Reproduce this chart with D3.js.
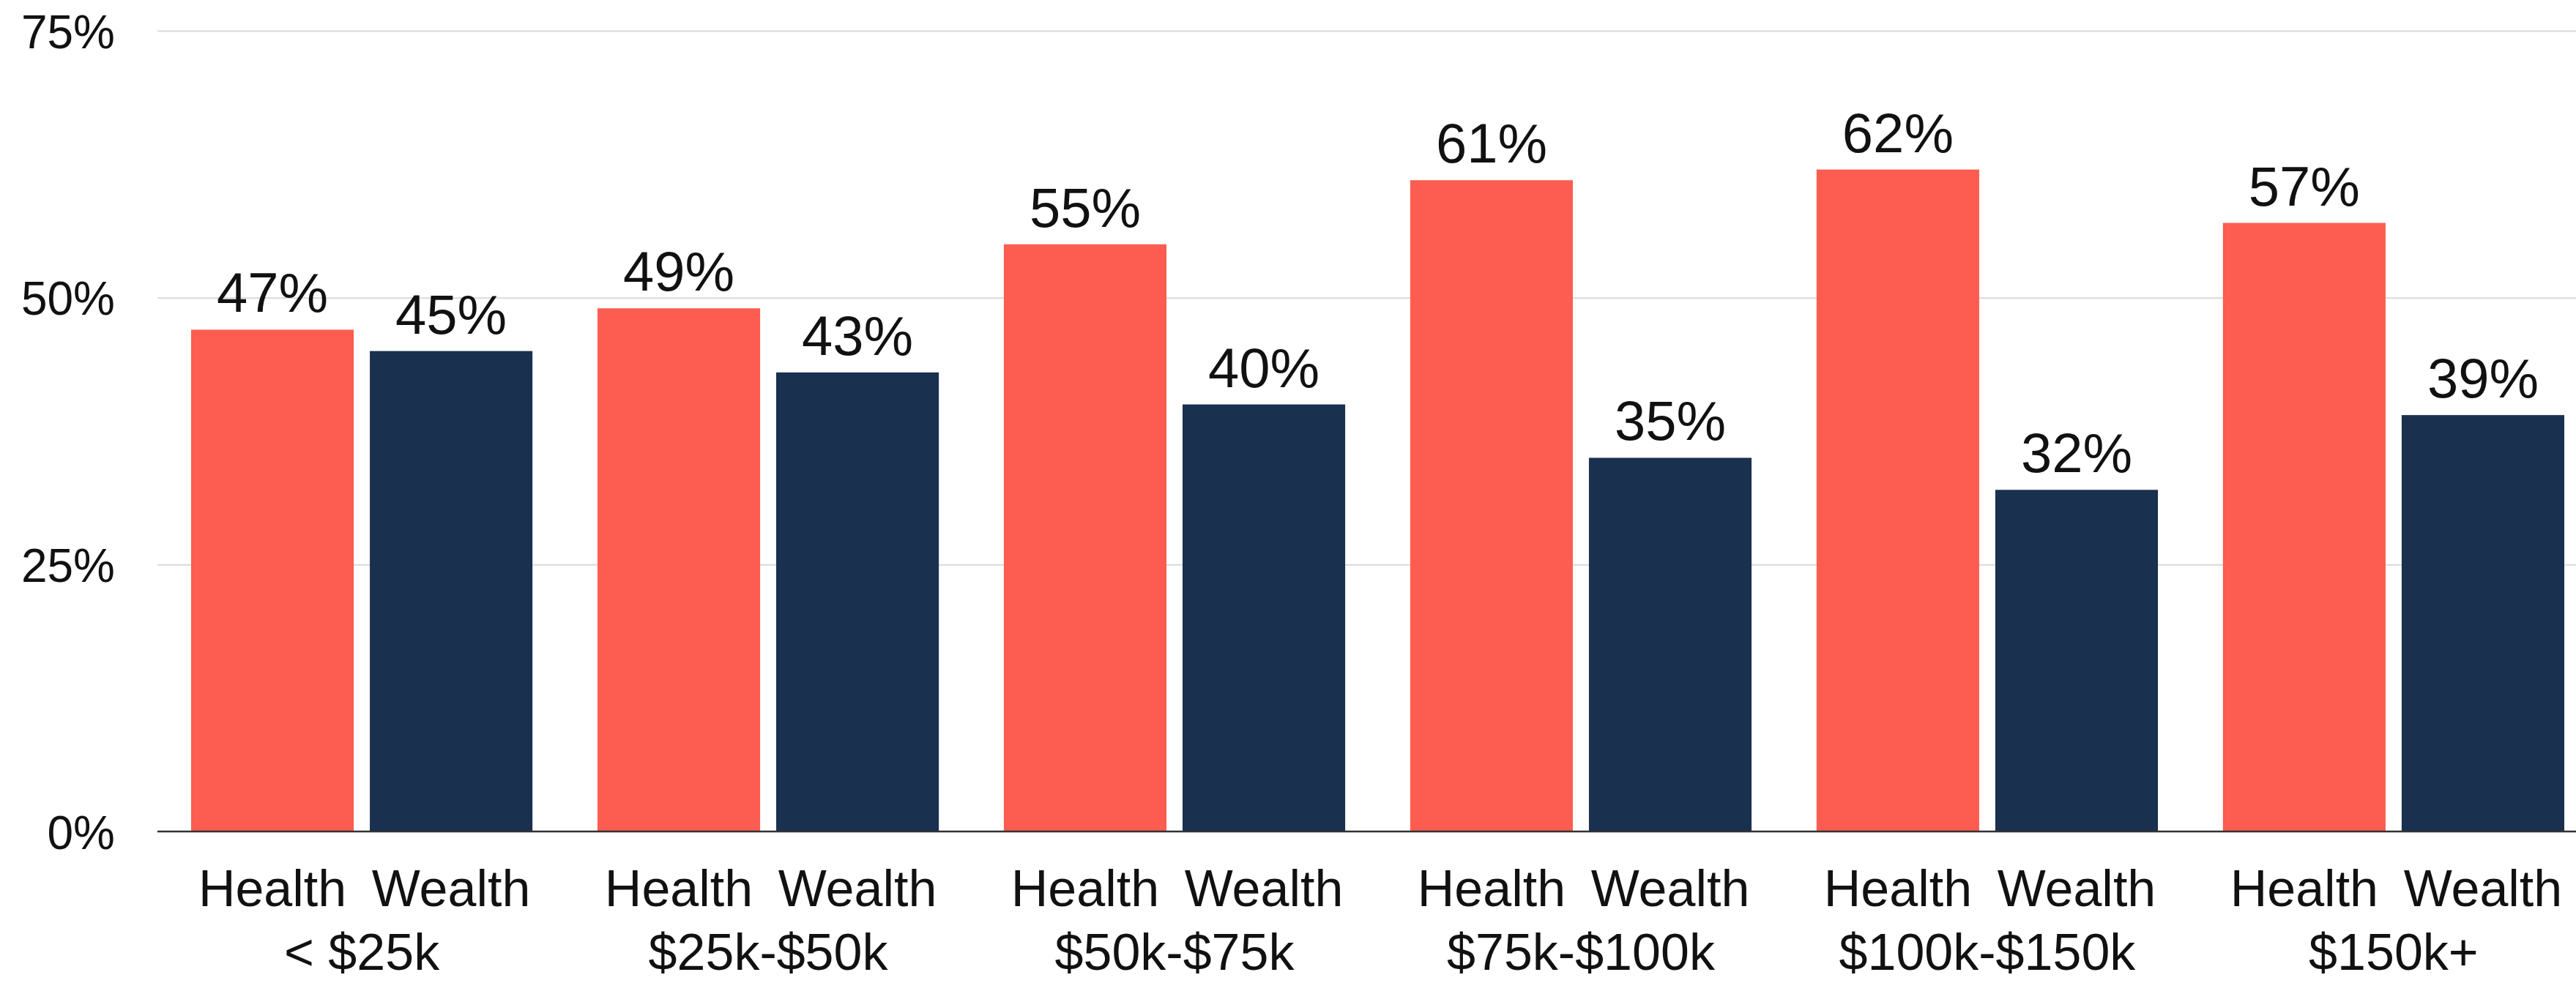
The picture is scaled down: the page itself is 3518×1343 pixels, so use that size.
<!DOCTYPE html>
<html>
<head>
<meta charset="utf-8">
<script src="https://cdn.jsdelivr.net/npm/d3@7"></script>
<style>
  html, body { margin: 0; padding: 0; background: #ffffff; }
  svg { display: block; font-family: "Liberation Sans", Arial, Helvetica, sans-serif; }
</style>
</head>
<body>
<svg id="chart" width="3518" height="1343"></svg>
<script>
// Income brackets and the share answering each option
const incomeGroups = ["< $25k", "$25k-$50k", "$50k-$75k", "$75k-$100k", "$100k-$150k", "$150k+"];
const seriesNames = ["Health", "Wealth"];
const healthValues = [47, 49, 55, 61, 62, 57];
const wealthValues = [45, 43, 40, 35, 32, 39];
const yTicks = [0, 25, 50, 75];
const seriesColors = ["#fd5c50", "#19304f"];

const W = 3518;
const plotLeft = 215, plotRight = W;
const barsLeft = 261, barsRight = 3502;
const yTop = 42, yBottom = 1136;

const svg = d3.select("#chart");

const y = d3.scaleLinear().domain([0, 75]).range([yBottom, yTop]);

const x0 = d3.scaleBand()
  .domain(incomeGroups)
  .range([barsLeft, barsRight])
  .paddingInner(0.16)
  .paddingOuter(0);

const x1 = d3.scaleBand()
  .domain(seriesNames)
  .range([0, x0.bandwidth()])
  .paddingInner(0.09)
  .paddingOuter(0);

const color = d3.scaleOrdinal().domain(seriesNames).range(seriesColors);

// Y axis with horizontal gridlines
const yAxis = d3.axisLeft(y)
  .tickValues(yTicks)
  .tickFormat(d => d + "%")
  .tickSize(-(plotRight - plotLeft))
  .tickPadding(58);

const yG = svg.append("g")
  .attr("transform", `translate(${plotLeft},0)`)
  .call(yAxis);
yG.select(".domain").remove();
yG.selectAll(".tick line")
  .attr("stroke", d => d === 0 ? "none" : "#d9d9d9")
  .attr("stroke-width", 2);
yG.selectAll(".tick text")
  .attr("fill", "#111")
  .attr("font-size", 64)
  .attr("dy", "0.36em")
  .style("font-family", "'Liberation Sans', Arial, sans-serif");

const rows = incomeGroups.map((g, i) => ({
  group: g,
  values: [
    { key: "Health", value: healthValues[i] },
    { key: "Wealth", value: wealthValues[i] }
  ]
}));

const groups = svg.append("g")
  .selectAll("g")
  .data(rows)
  .join("g")
  .attr("transform", d => `translate(${x0(d.group)},0)`);

groups.selectAll("rect")
  .data(d => d.values)
  .join("rect")
  .attr("x", d => x1(d.key))
  .attr("y", d => y(d.value))
  .attr("width", x1.bandwidth())
  .attr("height", d => y(0) - y(d.value))
  .attr("fill", d => color(d.key));

// Value labels above bars
groups.selectAll("text.value")
  .data(d => d.values)
  .join("text")
  .attr("class", "value")
  .attr("x", d => x1(d.key) + x1.bandwidth() / 2)
  .attr("y", d => y(d.value) - 24)
  .attr("text-anchor", "middle")
  .attr("font-size", 76)
  .attr("fill", "#111")
  .text(d => d.value + "%");

// Series labels under each bar
groups.selectAll("text.series")
  .data(d => d.values)
  .join("text")
  .attr("class", "series")
  .attr("x", d => x1(d.key) + x1.bandwidth() / 2)
  .attr("y", 1238)
  .attr("text-anchor", "middle")
  .attr("font-size", 70)
  .attr("fill", "#111")
  .text(d => d.key);

// Income bracket labels
groups.append("text")
  .attr("x", x0.bandwidth() / 2)
  .attr("y", 1325)
  .attr("text-anchor", "middle")
  .attr("font-size", 70)
  .attr("fill", "#111")
  .text(d => d.group);

// Baseline
svg.append("line")
  .attr("x1", plotLeft)
  .attr("x2", plotRight)
  .attr("y1", y(0))
  .attr("y2", y(0))
  .attr("stroke", "#333")
  .attr("stroke-width", 2.5);
</script>
</body>
</html>
